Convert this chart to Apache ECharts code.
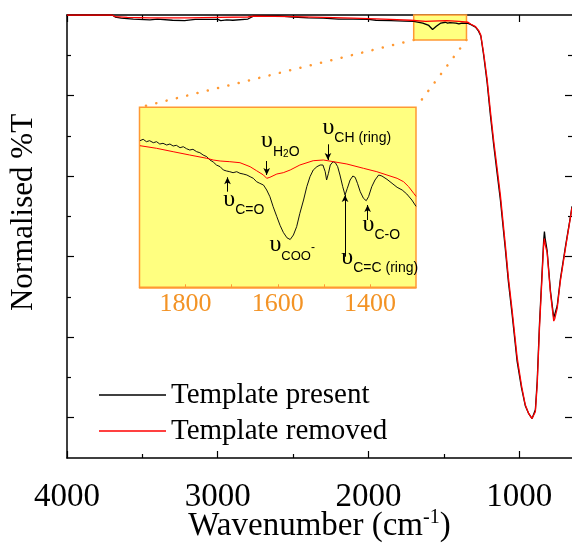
<!DOCTYPE html>
<html>
<head>
<meta charset="utf-8">
<script src="https://cdn.jsdelivr.net/npm/echarts@6/dist/echarts.min.js"></script>
<style>
html, body { margin: 0; padding: 0; background: #fff; }
#myChart { width: 572px; height: 543px; }
</style>
</head>
<body>
<div id="myChart"></div>
<script>
// Spectra: [wavenumber (cm-1), normalised %T]
const presentMain = [
  [4000, 11.0], [3700, 11.0], [3680, 10.95], [3640, 10.92], [3560, 10.9], [3450, 10.88],
  [3400, 10.9], [3300, 10.87], [3220, 10.86], [3150, 10.89], [3000, 10.89], [2980, 10.86],
  [2940, 10.88], [2900, 10.87], [2800, 10.9], [2760, 10.98], [2600, 10.98], [2500, 10.95],
  [2400, 10.93], [2300, 10.92], [2200, 10.9], [2100, 10.9], [2000, 10.89], [1950, 10.87],
  [1850, 10.86], [1760, 10.85], [1700, 10.84], [1640, 10.8], [1600, 10.74], [1575, 10.64],
  [1550, 10.72], [1520, 10.8], [1490, 10.82], [1475, 10.8], [1460, 10.81], [1420, 10.8],
  [1400, 10.78], [1380, 10.8], [1340, 10.79], [1320, 10.76], [1290, 10.7], [1270, 10.6],
  [1255, 10.48], [1236, 10.0], [1213, 9.32], [1191, 8.5], [1169, 7.76], [1147, 7.08],
  [1125, 6.41], [1092, 5.18], [1072, 4.38], [1047, 3.56], [1014, 2.4], [985, 1.74],
  [960, 1.3], [937, 1.1], [915, 0.98], [905, 1.02], [893, 1.2], [881, 1.9], [866, 3.3],
  [850, 4.5], [838, 5.4], [833, 5.62], [828, 5.45], [815, 5.15], [793, 4.15], [771, 3.48],
  [765, 3.5], [748, 3.78], [727, 4.45], [693, 5.26], [660, 6.0], [650, 6.25]
]
const removedMain = [
  [4000, 11.0], [3700, 11.0], [3680, 10.96], [3600, 10.94], [3450, 10.93], [3200, 10.93],
  [3000, 10.94], [2800, 10.95], [2760, 10.97], [2500, 10.96], [2300, 10.94], [2100, 10.92],
  [1900, 10.9], [1720, 10.87], [1620, 10.84], [1580, 10.85], [1480, 10.86], [1400, 10.84],
  [1340, 10.82], [1320, 10.77], [1290, 10.71], [1270, 10.62], [1255, 10.5], [1236, 10.05],
  [1213, 9.4], [1191, 8.6], [1169, 7.86], [1147, 7.2], [1125, 6.52], [1092, 5.28],
  [1072, 4.48], [1047, 3.66], [1014, 2.5], [985, 1.8], [960, 1.32], [937, 1.1], [915, 0.98],
  [905, 1.0], [893, 1.15], [881, 1.8], [866, 3.2], [850, 4.4], [838, 5.3], [833, 5.45],
  [828, 5.3], [815, 5.1], [793, 4.1], [771, 3.4], [765, 3.45], [748, 3.72], [727, 4.4],
  [693, 5.22], [660, 5.98], [650, 6.22]
]
// Inset (1900-1300 cm-1), arbitrary units
const presentInset = [
  [1899, 14.66], [1892, 14.8], [1885, 14.56], [1878, 14.66], [1870, 14.46], [1863, 14.56],
  [1856, 14.33], [1849, 14.4], [1841, 14.23], [1834, 14.33], [1827, 14.13], [1820, 14.2],
  [1812, 13.96], [1805, 14.06], [1798, 13.86], [1791, 13.73], [1784, 13.8], [1776, 13.56],
  [1769, 13.46], [1762, 13.23], [1754, 13.06], [1747, 12.73], [1740, 12.53], [1733, 12.23],
  [1725, 12.06], [1718, 11.73], [1711, 11.63], [1704, 11.56], [1697, 11.46], [1689, 11.56],
  [1682, 11.4], [1675, 11.33], [1667, 11.23], [1660, 11.06], [1653, 10.9], [1646, 10.56],
  [1639, 10.4], [1631, 10.23], [1624, 9.73], [1617, 9.06], [1610, 8.06], [1602, 7.06],
  [1595, 6.2], [1588, 5.5], [1580, 4.95], [1573, 4.78], [1566, 5.23], [1559, 6.06],
  [1552, 7.4], [1544, 8.73], [1537, 10.06], [1530, 11.06], [1523, 11.73], [1515, 12.06],
  [1508, 12.23], [1502, 12.23], [1497, 11.56], [1494, 10.73], [1490, 11.4], [1486, 12.23],
  [1480, 12.56], [1475, 12.46], [1470, 12.06], [1465, 11.23], [1459, 10.06], [1454, 9.23],
  [1449, 9.9], [1443, 10.73], [1437, 11.13], [1432, 11.0], [1427, 10.4], [1421, 9.56],
  [1414, 8.9], [1408, 8.66], [1403, 9.06], [1396, 10.06], [1389, 10.73], [1381, 11.23],
  [1374, 11.13], [1363, 10.8], [1352, 10.4], [1341, 10.0], [1330, 9.73], [1320, 9.33],
  [1309, 8.73], [1300, 8.1]
]
const removedInset = [
  [1899, 14.16], [1863, 13.9], [1827, 13.56], [1791, 13.23], [1754, 12.9], [1740, 12.73],
  [1725, 12.63], [1704, 12.56], [1682, 12.46], [1660, 12.06], [1646, 11.66], [1631, 11.23],
  [1624, 10.9], [1617, 11.0], [1602, 11.33], [1588, 11.46], [1573, 11.73], [1552, 12.23],
  [1523, 12.66], [1501, 12.73], [1479, 12.56], [1450, 12.33], [1414, 11.9], [1385, 11.56],
  [1363, 11.23], [1341, 10.9], [1327, 10.56], [1316, 10.06], [1305, 9.4], [1300, 9.1]
]

const names = ['Template present', 'Template removed']
const xLabels = [1000, 2000, 3000, 4000]
const xMinor = [1500, 2500, 3500]
const yMajor = [1, 3, 5, 7, 9]
const yMinor = [2, 4, 6, 8, 10]
const insetTicks = [1400, 1500, 1600, 1700, 1800]
const insetLabels = [1400, 1600, 1800]
const boxWn = [1700, 1350]
const boxVal = [10.38, 11]

// band labels: rich text, anchor (top-left) in inset coords
const bands = [
  { text: '{u|υ}{s|C=O}', at: [1717, 9.93] },
  { text: '{u|υ}{s|H}{ss|2}{s|O}', at: [1635, 15.76] },
  { text: '{u|υ}{s|CH (ring)}', at: [1502, 17.13] },
  { text: '{u|υ}{c|COO}{sup|-}', at: [1617, 5.43] },
  { text: '{u|υ}{s|C=C (ring)}', at: [1461, 4.13] },
  { text: '{u|υ}{s|C-O}', at: [1415, 7.43] },
]
// arrows: [wavenumber, from, to]
const arrows = [
  [1709, 9.56, 11.0],
  [1624, 12.63, 11.23],
  [1491, 14.3, 12.73],
  [1454, 3.06, 9.23],
  [1405, 6.73, 8.23],
]

const serif = 'Liberation Serif'
const sans = 'Liberation Sans'
const orange = '#FF9933'
const labelOrange = '#F39325'
const yellow = '#FFFF80'
const plain = v => String(v)

const chart = echarts.init(document.getElementById('myChart'))

function xTicks(position, values, len, line, labels) {
  return {
    gridIndex: 0, type: 'value', position: position, inverse: true, min: 650, max: 4000,
    axisLine: { show: line, onZero: false, lineStyle: { color: '#000', width: 1.5 } },
    axisTick: { show: true, inside: true, length: len, customValues: values, lineStyle: { color: '#000', width: 1.2 } },
    axisLabel: labels
      ? { customValues: xLabels, formatter: plain, margin: 23, fontFamily: serif, fontSize: 33, color: '#000' }
      : { show: false },
    splitLine: { show: false },
  }
}
function yTicks(position, values, len, line) {
  return {
    gridIndex: 0, type: 'value', position: position, min: 0, max: 11,
    axisLine: { show: line, onZero: false, lineStyle: { color: '#000', width: 1.5 } },
    axisTick: { show: true, inside: true, length: len, customValues: values, lineStyle: { color: '#000', width: 1.2 } },
    axisLabel: { show: false },
    splitLine: { show: false },
  }
}

const bottomAxis = xTicks('bottom', xLabels, 7, true, true)
bottomAxis.name = 'Wavenumber (cm{sup|-1})'
bottomAxis.nameLocation = 'middle'
bottomAxis.nameGap = 50
bottomAxis.nameMoveOverlap = false
bottomAxis.nameTextStyle = {
  fontFamily: serif, fontSize: 33, color: '#000', lineHeight: 36,
  rich: { sup: { fontFamily: serif, fontSize: 20, lineHeight: 20, verticalAlign: 'top', color: '#000' } },
}

const leftAxis = yTicks('left', yMajor, 7, true)
leftAxis.name = 'Normalised %T'
leftAxis.nameLocation = 'middle'
leftAxis.nameGap = 28
leftAxis.nameMoveOverlap = false
leftAxis.nameTextStyle = { fontFamily: serif, fontSize: 31, color: '#000', lineHeight: 30, padding: [0, 0, 0, 48] }

const rich = {
  u: { fontFamily: serif, fontSize: 24, lineHeight: 30, verticalAlign: 'top', color: '#000' },
  s: { fontFamily: sans, fontSize: 14, lineHeight: 14, verticalAlign: 'bottom', color: '#000' },
  c: { fontFamily: sans, fontSize: 13, lineHeight: 14, verticalAlign: 'bottom', color: '#000' },
  ss: { fontFamily: sans, fontSize: 10, lineHeight: 8, verticalAlign: 'bottom', color: '#000' },
  sup: { fontFamily: sans, fontSize: 12, lineHeight: 12, verticalAlign: 'middle', color: '#000' },
}

chart.setOption({
  animation: false,
  grid: [
    { left: 67, right: 0, top: 15, bottom: 85, outerBoundsMode: 'none' },
    {
      left: 139.5, top: 107.3, width: 276.5, height: 180, outerBoundsMode: 'none',
      show: true, backgroundColor: yellow, borderColor: orange, borderWidth: 1.5,
    },
  ],
  legend: {
    orient: 'vertical', left: 94, top: 375, itemWidth: 67, itemHeight: 1.6, itemGap: 6,
    icon: 'rect',
    data: names,
    textStyle: { fontFamily: serif, fontSize: 29, color: '#000', lineHeight: 30 },
  },
  xAxis: [
    bottomAxis,
    xTicks('bottom', xMinor, 4, false, false),
    xTicks('top', xLabels, 7, true, false),
    xTicks('top', xMinor, 4, false, false),
    {
      gridIndex: 1, type: 'value', position: 'bottom', inverse: true, min: 1300, max: 1900,
      axisLine: { show: true, onZero: false, lineStyle: { color: orange, width: 1.5 } },
      axisTick: { show: true, inside: true, length: 3, customValues: insetTicks, lineStyle: { color: orange } },
      axisLabel: { customValues: insetLabels, formatter: plain, margin: 4, fontFamily: serif, fontSize: 26, color: labelOrange },
      splitLine: { show: false },
    },
  ],
  yAxis: [
    leftAxis,
    yTicks('left', yMinor, 4, false),
    yTicks('right', yMajor, 7, false),
    yTicks('right', yMinor, 4, false),
    { gridIndex: 1, type: 'value', min: 0, max: 18, show: false },
  ],
  series: [
    {
      name: names[0], type: 'line', xAxisIndex: 0, yAxisIndex: 0, data: presentMain,
      symbol: 'none', lineStyle: { color: '#000', width: 1.3 }, itemStyle: { color: '#000' },
      markArea: {
        silent: true,
        itemStyle: { color: yellow, borderColor: orange, borderWidth: 1.5 },
        data: [[{ coord: [boxWn[0], boxVal[0]] }, { coord: [boxWn[1], boxVal[1]] }]],
      },
    },
    {
      name: names[1], type: 'line', xAxisIndex: 0, yAxisIndex: 0, data: removedMain,
      symbol: 'none', lineStyle: { color: '#FF0000', width: 1.3 }, itemStyle: { color: '#FF0000' },
    },
    {
      name: names[0], type: 'line', xAxisIndex: 4, yAxisIndex: 4, data: presentInset,
      symbol: 'none', lineStyle: { color: '#111', width: 1 }, itemStyle: { color: '#000' },
      markLine: {
        silent: true, symbol: ['none', 'arrow'], symbolSize: [5, 7],
        label: { show: false },
        lineStyle: { color: '#000', width: 1, type: 'solid' },
        data: arrows.map(a => [{ coord: [a[0], a[1]] }, { coord: [a[0], a[2]] }]),
      },
      markPoint: {
        silent: true, symbol: 'rect', symbolSize: 1, itemStyle: { color: 'rgba(0,0,0,0)' },
        label: { show: true, position: [0, 0], rich: rich },
        data: bands.map(b => ({ coord: b.at, label: { formatter: b.text } })),
      },
    },
    {
      name: names[1], type: 'line', xAxisIndex: 4, yAxisIndex: 4, data: removedInset,
      symbol: 'none', lineStyle: { color: '#FF0000', width: 1 }, itemStyle: { color: '#FF0000' },
    },
  ],
})

// dotted guide lines from the highlighted band to the inset corners
const mainFinder = { xAxisIndex: 0, yAxisIndex: 0 }
const insetFinder = { xAxisIndex: 4, yAxisIndex: 4 }
const pL = chart.convertToPixel(mainFinder, [boxWn[0], boxVal[0]])
const pR = chart.convertToPixel(mainFinder, [boxWn[1], boxVal[0]])
const qL = chart.convertToPixel(insetFinder, [1900, 18])
const qR = chart.convertToPixel(insetFinder, [1300, 18])
const dotStyle = { stroke: orange, lineWidth: 2.5, lineDash: [0.1, 10.5], lineCap: 'round' }
chart.setOption({
  graphic: [
    { type: 'line', z: 10, silent: true, shape: { x1: pL[0], y1: pL[1], x2: qL[0], y2: qL[1] }, style: dotStyle },
    { type: 'line', z: 10, silent: true, shape: { x1: pR[0], y1: pR[1], x2: qR[0], y2: qR[1] }, style: dotStyle },
  ],
})
</script>
</body>
</html>
